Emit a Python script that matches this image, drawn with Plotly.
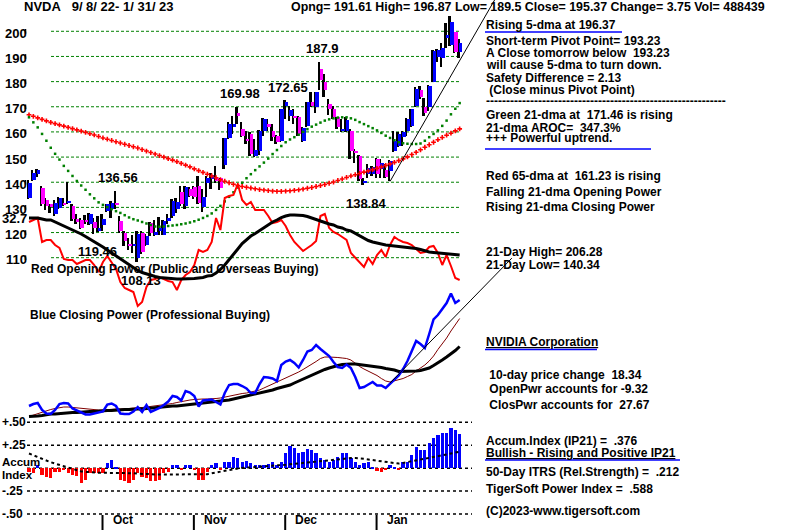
import plotly.graph_objects as go
import pandas as pd

# ---------------- data ----------------
holidays = ["2022-11-24", "2022-12-26", "2023-01-02", "2023-01-16"]
dates = pd.bdate_range("2022-09-08", "2023-01-31", freq="C", holidays=holidays)
idx = list(range(len(dates)))

opens = [133.8, 140.8, 143.2, 137.8, 132.8, 131.2, 127.2, 129.8, 131.8, 131.9,
         130.5, 125.2, 124.9, 125.1, 123.4, 124.1, 120.6, 123.2, 128.5, 129.2,
         131.8, 124.5, 119.8, 115.5, 115.0, 110.0, 119.8, 115.2, 123.9, 119.2,
         120.5, 119.2, 124.5, 126.5, 129.5, 136.1, 130.5, 137.5, 138.0, 138.5,
         130.1, 139.8, 141.2, 141.6, 141.6, 147.0, 157.6, 161.8, 167.6, 161.2,
         157.3, 159.2, 150.5, 152.5, 160.5, 163.2, 160.2, 158.5, 156.5, 170.5,
         166.5, 166.5, 165.8, 156.5, 162.5, 171.8, 169.8, 185.2, 179.8, 171.2,
         169.2, 165.8, 160.2, 160.5, 160.5, 152.2, 150.5, 139.5, 143.2, 143.2,
         149.2, 145.2, 144.8, 144.5, 152.5, 154.5, 157.8, 160.5, 162.5, 170.5,
         176.8, 170.1, 169.8, 180.0, 189.6, 189.2, 197.2, 194.5, 199.8, 191.61]
highs = [141.0, 145.0, 145.3, 138.5, 133.6, 131.5, 133.0, 134.2, 133.8, 140.2,
         131.2, 127.2, 125.8, 126.9, 127.8, 125.8, 126.5, 127.2, 131.5, 132.5,
         136.56, 126.5, 120.5, 117.8, 119.2, 120.5, 120.5, 119.5, 124.0, 125.0,
         126.0, 125.0, 127.2, 133.2, 133.8, 138.5, 138.5, 138.0, 138.5, 142.5,
         137.5, 142.5, 143.5, 146.4, 141.8, 157.6, 163.9, 166.5, 169.98, 163.8,
         160.5, 159.8, 157.2, 160.6, 165.5, 165.0, 163.2, 158.8, 169.3, 172.65,
         170.5, 169.2, 166.5, 161.8, 171.8, 175.8, 176.0, 187.9, 183.2, 173.2,
         170.5, 166.1, 165.2, 166.0, 161.2, 153.2, 151.0, 141.8, 147.2, 146.5,
         149.8, 149.2, 147.2, 149.0, 160.5, 159.8, 160.5, 165.5, 169.2, 177.8,
         178.2, 173.6, 178.5, 192.6, 193.0, 195.2, 203.2, 206.28, 199.9, 196.87]
lows = [133.3, 140.5, 142.1, 130.5, 128.8, 127.8, 126.5, 129.5, 130.5, 131.2,
        124.5, 123.4, 121.5, 123.4, 123.0, 119.46, 120.3, 120.6, 128.3, 125.8,
        129.2, 119.8, 114.5, 113.2, 112.0, 108.13, 111.5, 114.5, 118.5, 118.5,
        119.2, 118.9, 123.5, 125.8, 127.8, 130.5, 129.5, 134.0, 133.5, 131.5,
        128.3, 134.0, 137.5, 139.7, 137.0, 145.2, 157.0, 159.2, 163.0, 157.8,
        155.2, 150.5, 150.0, 151.0, 158.5, 160.3, 156.5, 155.2, 155.8, 165.0,
        164.5, 163.2, 158.5, 155.8, 162.0, 169.8, 167.5, 176.5, 173.8, 166.9,
        165.2, 161.0, 159.8, 160.0, 149.2, 147.5, 140.5, 138.84, 141.8, 142.5,
        141.8, 141.8, 141.8, 140.34, 152.0, 154.0, 154.5, 158.5, 162.0, 170.0,
        173.0, 166.5, 168.5, 179.8, 187.8, 186.0, 193.2, 194.0, 191.2, 189.5]
closes = [139.8, 143.8, 144.9, 131.2, 130.5, 130.5, 131.8, 133.8, 131.2, 132.5,
          125.2, 124.0, 121.9, 124.3, 127.4, 121.9, 121.9, 125.2, 131.2, 131.8,
          131.0, 120.8, 116.5, 114.9, 115.6, 119.6, 112.3, 118.5, 119.7, 120.1,
          121.9, 124.5, 125.8, 132.5, 132.0, 131.4, 138.1, 134.5, 134.2, 131.8,
          134.1, 141.6, 143.0, 140.3, 137.6, 157.4, 163.2, 163.2, 166.3, 158.5,
          156.3, 151.3, 152.8, 160.5, 165.2, 161.8, 157.8, 155.8, 169.2, 171.8,
          168.8, 165.6, 159.2, 161.6, 171.8, 170.4, 175.8, 180.5, 176.5, 169.2,
          165.8, 161.8, 161.2, 164.8, 152.5, 151.9, 141.2, 140.4, 145.8, 146.1,
          143.2, 147.5, 142.2, 148.6, 156.3, 159.2, 160.0, 165.1, 168.99, 177.0,
          173.8, 167.7, 178.4, 192.2, 192.5, 193.2, 198.5, 203.8, 191.62, 195.37]

ma65 = [166.8, 166.2, 165.6, 165.0, 164.4, 163.8, 163.3, 162.8, 162.3, 161.8,
        161.3, 160.8, 160.3, 159.8, 159.3, 158.8, 158.2, 157.6, 157.1, 156.6,
        156.1, 155.6, 155.1, 154.6, 154.1, 153.6, 153.0, 152.4, 151.8, 151.2,
        150.6, 150.0, 149.4, 148.8, 148.2, 147.5, 146.8, 146.1, 145.3, 144.6,
        143.9, 143.2, 142.5, 141.8, 141.0, 140.4, 139.8, 139.2, 138.7, 138.3,
        138.0, 137.7, 137.4, 137.1, 136.9, 136.7, 136.5, 136.4, 136.4, 136.5,
        136.6, 136.8, 137.0, 137.3, 137.6, 137.9, 138.3, 138.7, 139.1, 139.6,
        140.1, 140.7, 141.3, 141.9, 142.5, 143.0, 143.5, 144.0, 144.5, 145.0,
        145.5, 146.1, 146.7, 147.3, 147.9, 148.6, 149.3, 150.1, 151.0, 151.9,
        152.9, 153.9, 154.9, 155.9, 156.9, 157.8, 158.7, 159.5, 160.4, 161.23]
ma21 = [165.8, 163.8, 161.8, 159.2, 156.5, 153.7, 151.3, 149.0, 146.5, 144.5,
        142.5, 140.5, 138.7, 137.0, 135.2, 133.6, 132.0, 131.0, 130.1, 129.3,
        128.5, 127.8, 126.9, 126.0, 125.3, 124.8, 124.2, 123.6, 123.0, 122.4,
        122.3, 122.4, 122.6, 122.8, 123.0, 123.3, 123.6, 124.0, 124.5, 125.1,
        125.8, 126.6, 127.6, 129.0, 130.6, 132.4, 134.2, 136.0, 137.9, 139.8,
        141.6, 143.2, 144.8, 146.3, 147.8, 149.4, 151.2, 152.8, 154.4, 155.9,
        157.0, 157.9, 158.9, 160.0, 161.1, 162.1, 162.9, 163.7, 164.5, 165.0,
        165.4, 165.7, 165.8, 165.8, 165.4, 164.8, 163.9, 163.1, 162.3, 161.5,
        160.6, 159.6, 158.5, 157.6, 156.7, 155.9, 155.5, 155.3, 155.2, 155.2,
        155.4, 156.5, 157.9, 159.2, 160.6, 162.4, 164.5, 167.0, 169.2, 171.46]

open_power = [32.3, 32.5, 32.7, 30.3, 30.5, 30.5, 30.0, 29.7, 28.6, 28.5,
              28.5, 28.1, 28.3, 28.5, 28.5, 28.0, 27.3, 28.3, 28.9, 28.3,
              27.6, 26.3, 25.7, 25.5, 25.3, 23.9, 24.3, 25.8, 26.5, 26.6,
              26.8, 26.6, 26.4, 26.3, 25.5, 26.5, 27.0, 27.3, 28.0, 29.5,
              29.3, 29.5, 30.3, 32.7, 31.5, 34.7, 34.9, 35.0, 36.1, 34.5,
              34.0, 34.3, 33.5, 33.5, 33.5, 32.9, 32.2, 32.3, 32.5, 31.9,
              31.0, 30.3, 29.8, 29.4, 29.7, 30.0, 30.4, 32.9, 33.1, 31.7,
              31.3, 31.1, 30.8, 30.5, 29.2, 28.7, 28.3, 27.8, 28.7, 28.1,
              29.0, 29.5, 28.8, 30.0, 30.8, 30.5, 30.3, 30.2, 30.0, 29.6,
              29.2, 29.3, 29.8, 29.9, 29.2, 28.0, 29.0, 27.9, 26.7, 26.5]
open_power_ma = [32.7, 32.7, 32.7, 32.6, 32.5, 32.5, 32.3, 32.1, 31.95, 31.75,
                 31.5, 31.3, 31.1, 30.85, 30.6, 30.3, 30.1, 29.8, 29.5, 29.2,
                 28.9, 28.6, 28.3, 28.0, 27.7, 27.45, 27.25, 27.1, 26.95, 26.85,
                 26.75, 26.7, 26.65, 26.6, 26.6, 26.6, 26.6, 26.6, 26.65, 26.7,
                 26.75, 26.9, 26.95, 27.2, 27.55, 28.0, 28.5, 29.05, 29.6, 30.15,
                 30.55, 30.9, 31.15, 31.45, 31.75, 32.05, 32.3, 32.5, 32.75, 32.9,
                 33.0, 33.0, 33.0, 32.95, 32.85, 32.7, 32.5, 32.4, 32.25, 32.1,
                 32.0, 31.8, 31.7, 31.5, 31.4, 31.15, 30.9, 30.65, 30.45, 30.3,
                 30.2, 30.05, 30.0, 29.95, 29.9, 29.9, 29.85, 29.8, 29.7, 29.65,
                 29.55, 29.4, 29.3, 29.25, 29.2, 29.15, 29.1, 29.05, 29.0, 29.0]
close_power = [13.9, 14.1, 14.2, 13.5, 13.15, 13.1, 13.5, 14.1, 14.2, 14.15,
               13.65, 13.45, 13.3, 13.05, 13.05, 13.15, 13.25, 13.35, 14.05, 14.15,
               13.9, 13.15, 13.1, 13.1, 13.35, 13.8, 13.3, 14.0, 13.3, 13.5,
               13.7, 14.0, 14.35, 14.9, 14.8, 14.45, 15.4, 15.25, 14.9, 13.85,
               14.45, 14.5, 14.55, 14.3, 14.05, 15.2, 16.0, 16.1, 16.1, 15.9,
               15.65, 15.2, 15.2, 16.1, 16.8, 16.75, 16.65, 16.4, 18.0, 18.35,
               18.5, 18.2, 17.75, 18.5, 19.35, 19.5, 20.0, 19.6, 19.25, 18.9,
               18.3, 17.8, 17.7, 18.05, 17.7, 16.8, 15.7, 15.8, 16.05, 16.3,
               15.95, 15.95, 15.7, 16.1, 16.55, 16.95, 17.6, 18.4, 19.4, 20.4,
               20.1, 19.7, 21.1, 22.55, 23.0, 23.6, 24.2, 25.15, 24.2, 24.5]
close_power_ma21 = [12.85, 13.0, 13.15, 13.3, 13.45, 13.55, 13.65, 13.75, 13.8, 13.8,
                    13.75, 13.7, 13.65, 13.6, 13.55, 13.5, 13.5, 13.5, 13.55, 13.6,
                    13.6, 13.6, 13.6, 13.65, 13.7, 13.7, 13.75, 13.8, 13.85, 13.9,
                    13.95, 14.0, 14.05, 14.15, 14.25, 14.35, 14.45, 14.5, 14.55, 14.6,
                    14.6, 14.6, 14.6, 14.65, 14.7, 14.8, 14.9, 14.95, 15.05, 15.15,
                    15.2, 15.3, 15.35, 15.5, 15.7, 15.9, 16.1, 16.3, 16.5, 16.7,
                    16.85, 17.05, 17.3, 17.55, 17.8, 18.05, 18.35, 18.65, 18.8, 18.8,
                    18.8, 18.75, 18.7, 18.65, 18.5, 18.15, 17.85, 17.6, 17.4, 17.2,
                    16.95, 16.65, 16.4, 16.3, 16.4, 16.5, 16.65, 16.85, 17.05, 17.4,
                    17.7, 18.0, 18.4, 18.9, 19.55, 20.1, 20.7, 21.4, 22.0, 22.65]
close_power_ma65 = [12.85, 12.85, 12.9, 12.95, 13.05, 13.1, 13.1, 13.15, 13.2, 13.2,
                    13.25, 13.25, 13.3, 13.3, 13.35, 13.35, 13.4, 13.4, 13.45, 13.45,
                    13.5, 13.5, 13.55, 13.55, 13.6, 13.6, 13.6, 13.65, 13.65, 13.7,
                    13.75, 13.8, 13.85, 13.9, 13.9, 13.95, 14.0, 14.05, 14.1, 14.1,
                    14.15, 14.2, 14.25, 14.3, 14.35, 14.4, 14.5, 14.6, 14.7, 14.8,
                    14.9, 14.95, 15.05, 15.15, 15.25, 15.35, 15.5, 15.65, 15.75, 15.85,
                    16.0, 16.2, 16.4, 16.6, 16.75, 16.95, 17.15, 17.35, 17.55, 17.7,
                    17.85, 17.95, 18.05, 18.1, 18.1, 18.1, 18.05, 18.0, 17.95, 17.9,
                    17.8, 17.75, 17.65, 17.6, 17.5, 17.35, 17.35, 17.35, 17.4, 17.4,
                    17.45, 17.55, 17.7, 17.95, 18.2, 18.5, 18.8, 19.1, 19.45, 19.85]

accum = [-0.036, -0.054, 0.036, -0.072, -0.091, -0.109, -0.036, -0.036, -0.025, -0.054,
         -0.072, -0.083, -0.163, -0.127, -0.054, -0.047, -0.047, -0.054, 0.054, 0.091,
         0.018, -0.127, -0.145, -0.156, -0.127, -0.054, -0.091, -0.109, -0.145, -0.145,
         -0.127, -0.054, -0.036, 0.036, 0.036, -0.025, 0.036, 0.036, -0.018, -0.127,
         -0.134, -0.036, 0.036, 0.054, -0.018, 0.072, 0.072, 0.127, 0.109, 0.072,
         0.080, 0.054, 0.036, 0.036, 0.036, 0.047, 0.072, 0.036, 0.072, 0.163,
         0.246, 0.217, 0.163, 0.181, 0.207, 0.199, 0.163, 0.109, 0.091, 0.072,
         0.091, 0.127, 0.163, 0.163, 0.109, 0.072, 0.036, 0.054, 0.072, 0.018,
         -0.029, -0.036, -0.025, 0.036, 0.018, -0.018, 0.072, 0.072, 0.145, 0.228,
         0.199, 0.199, 0.272, 0.326, 0.362, 0.380, 0.388, 0.435, 0.417, 0.376]
accum_ma = [0.16, 0.14, 0.12, 0.10, 0.08, 0.065, 0.05, 0.035, 0.02, 0.005,
            -0.01, -0.025, -0.035, -0.04, -0.045, -0.045, -0.05, -0.05, -0.05, -0.05,
            -0.05, -0.05, -0.05, -0.055, -0.055, -0.06, -0.06, -0.065, -0.065, -0.07,
            -0.07, -0.07, -0.068, -0.066, -0.064, -0.065, -0.066, -0.068, -0.07, -0.07,
            -0.07, -0.065, -0.055, -0.045, -0.035, -0.025, -0.018, -0.01, -0.003, 0.002,
            0.005, 0.008, 0.011, 0.014, 0.017, 0.02, 0.024, 0.028, 0.033, 0.038,
            0.043, 0.048, 0.053, 0.058, 0.064, 0.07, 0.075, 0.08, 0.086, 0.092,
            0.098, 0.102, 0.105, 0.108, 0.11, 0.11, 0.108, 0.102, 0.095, 0.088,
            0.08, 0.072, 0.065, 0.058, 0.052, 0.05, 0.058, 0.068, 0.078, 0.088,
            0.097, 0.105, 0.113, 0.12, 0.13, 0.14, 0.15, 0.16, 0.17, 0.18]

price_grid = [200, 190, 180, 170, 160, 150, 140, 130, 120, 110]
accum_grid = [0.50, 0.25, 0.0, -0.25, -0.50]
accum_tick_labels = {0.50: "+.50", 0.25: "+.25", -0.25: "-.25", -0.50: "-.50"}

trend_anchor = 83          # Jan 6 low
price_trend_slope = 3.0    # per day
price_trend_end = 107.2
cp_trend_start = 16.2
cp_trend_slope = 0.446
cp_trend_end = 111

# ---------------- layout calibration ----------------
W, H = 800, 530
X0_PX, DX_PX = 29.0, 4.35
x_range = [-X0_PX / DX_PX, (W - X0_PX) / DX_PX]
price_range = [1.76, 212.44]
power_range = [1.5, 54.5]
accum_range = [-0.674, 5.106]

FONT = "Liberation Sans, Arial, sans-serif"
BLUE, MAG, RED, GREEN, MAROON = "#0000FF", "#FF00FF", "#FF0000", "#008000", "#800000"


def px(p):
    return p / W


def py(p):
    return 1 - p / H


fig = go.Figure()

# Opening power (red) and its average (black)
fig.add_trace(go.Scatter(x=idx, y=open_power, yaxis="y2", mode="lines",
                         line=dict(color=RED, width=2)))
fig.add_trace(go.Scatter(x=idx, y=open_power_ma, yaxis="y2", mode="lines",
                         line=dict(color="black", width=3)))
# Closing power
fig.add_trace(go.Scatter(x=idx, y=close_power_ma21, yaxis="y2", mode="lines",
                         line=dict(color=MAROON, width=1)))
fig.add_trace(go.Scatter(x=idx, y=close_power_ma65, yaxis="y2", mode="lines",
                         line=dict(color="black", width=3)))
fig.add_trace(go.Scatter(x=idx, y=close_power, yaxis="y2", mode="lines",
                         line=dict(color=BLUE, width=2.5)))

# Moving averages of price
fig.add_trace(go.Scatter(x=idx, y=ma65, mode="markers",
                         marker=dict(symbol="cross", size=4, color=RED, line=dict(width=0))))
fig.add_trace(go.Scatter(x=idx, y=ma21, mode="markers",
                         marker=dict(symbol="square", size=2.5, color=GREEN, line=dict(width=0))))

# Candles: black wick + coloured body
fig.add_trace(go.Bar(x=idx, base=lows, y=[h - l for h, l in zip(highs, lows)],
                     width=0.45, offset=-0.45, marker=dict(color="black", line=dict(width=0))))
body_base = [min(o, c) for o, c in zip(opens, closes)]
body_h = [max(abs(c - o), 0.5) for o, c in zip(opens, closes)]
body_col = [BLUE if c >= o else MAG for o, c in zip(opens, closes)]
fig.add_trace(go.Bar(x=idx, base=body_base, y=body_h, width=0.8, offset=-0.2,
                     marker=dict(color=body_col, line=dict(width=0))))

# Trend lines
fig.add_trace(go.Scatter(
    x=[trend_anchor, price_trend_end],
    y=[lows[trend_anchor], lows[trend_anchor] + price_trend_slope * (price_trend_end - trend_anchor)],
    mode="lines", line=dict(color="black", width=1), cliponaxis=False))
fig.add_trace(go.Scatter(
    x=[trend_anchor, cp_trend_end],
    y=[cp_trend_start, cp_trend_start + cp_trend_slope * (cp_trend_end - trend_anchor)],
    yaxis="y2", mode="lines", line=dict(color="black", width=1), cliponaxis=False))

# Accumulation index
fig.add_trace(go.Bar(x=idx, y=accum, yaxis="y3", width=0.75,
                     marker=dict(color=[BLUE if a >= 0 else RED for a in accum], line=dict(width=0))))
fig.add_trace(go.Scatter(x=idx, y=accum_ma, yaxis="y3", mode="lines",
                         line=dict(color="black", width=2, dash="dot")))

shapes = []
for p in price_grid:
    shapes.append(dict(type="line", xref="paper", yref="y", x0=px(51), x1=px(460), y0=p, y1=p,
                       line=dict(color=GREEN, width=1, dash="3px,2px"), layer="below"))
    shapes.append(dict(type="line", xref="paper", yref="y", x0=px(25.5), x1=px(25.5), y0=p - 0.9, y1=p + 0.9,
                       line=dict(color="black", width=1.5)))
for a in accum_grid:
    shapes.append(dict(type="line", xref="paper", yref="y3", x0=px(27), x1=px(472), y0=a, y1=a,
                       line=dict(color="black", width=1.5, dash="dot"), layer="below"))
month_starts = [i for i in idx[1:] if dates[i].month != dates[i - 1].month]
for m in month_starts:
    shapes.append(dict(type="line", xref="x", yref="paper", x0=m - 0.1, x1=m - 0.1, y0=0, y1=py(515),
                       line=dict(color="black", width=2)))
# blue rules in the text block
for (x0, x1, yy) in [(485, 622, 32), (485, 651, 149), (485, 597, 349.5), (485, 680, 460)]:
    shapes.append(dict(type="line", xref="paper", yref="paper", x0=px(x0), x1=px(x1), y0=py(yy), y1=py(yy),
                       line=dict(color=BLUE, width=1.5)))

ann = []


def text(x, y, s, size=12, xanchor="left", yanchor="middle", xref="paper", yref="paper", xshift=0, yshift=0):
    ann.append(dict(x=x, y=y, xref=xref, yref=yref, text="<b>" + s.replace("  ", "\u00a0\u00a0") + "</b>",
                    showarrow=False, xanchor=xanchor, yanchor=yanchor, xshift=xshift, yshift=yshift,
                    borderpad=0, font=dict(family=FONT, size=size, color="black")))


for p in price_grid:
    text(px(27.5), p, str(p), size=13, xanchor="right", yref="y", yshift=-2)
text(px(27.5), open_power_ma[0], f"{open_power_ma[0]}", size=13, xanchor="right", yref="y2")
for a, lab in accum_tick_labels.items():
    text(px(1), a, lab, size=12, yref="y3")
text(px(1), py(462), "Accum", size=11.5)
text(px(1), py(475), "Index", size=11.5)

for i, m in enumerate(month_starts):
    text(m + 2, py(520), dates[m].strftime("%b"), size=12, xref="x")

# extreme price labels
for k in [48, 59, 67, 20]:
    text(k, highs[k], f"{highs[k]}", size=13, xanchor="center", xref="x", yref="y", yshift=13, xshift=2)
for k in [15, 25, 77]:
    text(k, lows[k], f"{lows[k]}", size=13, xanchor="center", xref="x", yref="y", yshift=-18, xshift=3)

text(px(30), py(269), "Red Opening Power (Public and Overseas Buying)", size=12)
text(px(29), py(315), "Blue Closing Power (Professional Buying)", size=12)

first, last = dates[0], dates[-1]
title = f"NVDA   {first.month}/ {first.day}/ {first.strftime('%y')}- {last.month}/ {last.day}/ {last.strftime('%y')}"
text(px(23), py(6.5), title.replace(" ", "\u00a0"), size=13)
hdr = (f"Opng= {opens[-1]} High= {highs[-1]} Low= {lows[-1]} Close= {closes[-1]} "
       f"Change= {closes[-1] - closes[-2]:.2f} Vol= 488439")
text(px(290), py(6.5), hdr, size=12.4)

right_lines = [
    ("Rising 5-dma at 196.37", 25),
    ("Short-term Pivot Point= 193.23", 41),
    ("A Close tomorrow below  193.23", 53),
    ("will cause 5-dma to turn down.", 65),
    ("Safety Difference = 2.13", 78),
    ("\u00a0(Close minus Pivot Point)", 90),
    ("-" * 60, 101),
    (f"Green 21-dma at  {ma21[-1]} is rising", 115),
    ("21-dma AROC=  347.3%", 128),
    ("+++ Powerful uptrend.", 138),
    (f"Red 65-dma at  {ma65[-1]} is rising", 176),
    ("Falling 21-dma Opening Power", 192),
    ("Rising 21-dma Closing Power", 207),
    (f"21-Day High= {max(highs[-21:])}", 252),
    (f"21-Day Low= {min(lows[-21:])}", 265),
    ("<u>NVIDIA Corporation</u>", 342),
    ("\u00a010-day price change  18.34", 375),
    ("\u00a0OpenPwr accounts for -9.32", 389),
    ("\u00a0ClosPwr accounts for  27.67", 405),
    (f"Accum.Index (IP21) =  {accum[-1]:.3f}".replace("0.", "."), 441),
    ("<u>Bullish - Rising and Positive IP21</u>", 453),
    ("50-Day ITRS (Rel.Strength) =  .212", 472),
    ("TigerSoft Power Index =  .588", 489),
    ("(C)2023-www.tigersoft.com", 511),
]
for s, yy in right_lines:
    text(px(485), py(yy), s, size=12)

fig.update_layout(
    width=W, height=H, margin=dict(l=0, r=0, t=0, b=0, pad=0), autosize=False,
    paper_bgcolor="white", plot_bgcolor="white", showlegend=False, barmode="overlay",
    bargap=0,
    xaxis=dict(range=x_range, visible=False, fixedrange=True),
    yaxis=dict(range=price_range, domain=[0, 1], visible=False, fixedrange=True),
    yaxis2=dict(range=power_range, overlaying="y", visible=False, fixedrange=True),
    yaxis3=dict(range=accum_range, overlaying="y", visible=False, fixedrange=True),
    shapes=shapes, annotations=ann,
)

fig.write_html("out.html", config={"displayModeBar": False},
               post_script="document.body.style.margin='0px';document.body.style.overflow='hidden';")
